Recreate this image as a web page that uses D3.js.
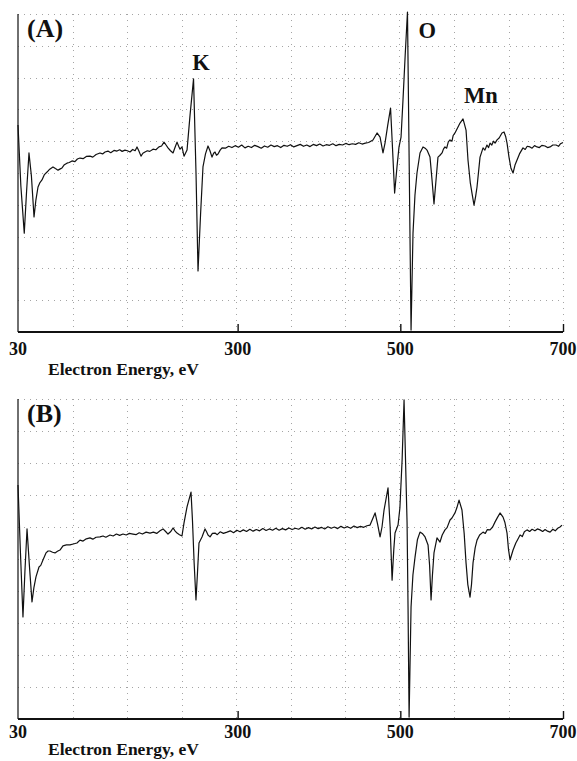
<!DOCTYPE html>
<html>
<head>
<meta charset="utf-8">
<script src="https://cdn.jsdelivr.net/npm/d3@7"></script>
<style>
  html, body { margin: 0; padding: 0; background: #fff; }
  svg { display: block; }
  text { font-family: "Liberation Serif", "Times New Roman", serif; font-weight: bold; fill: #111; }
</style>
</head>
<body>
<svg id="chart" width="577" height="761"></svg>
<script>
// Auger spectra (dN/dE, arbitrary units) versus electron energy in eV
const energyA = [
  30.0, 33.5, 37.7, 40.5, 43.5, 46.5, 49.7, 52.0, 54.6, 57.0, 59.5, 62.5, 65.7, 69.0, 73.0, 76.0,
  79.2, 82.0, 84.1, 87.0, 90.2, 93.0, 96.4, 100.0, 103.0, 106.2, 110.0, 114.0, 118.5, 122.0, 126.0,
  130.8, 134.0, 137.0, 140.6, 144.0, 148.0, 151.7, 155.0, 158.0, 161.5, 164.5, 167.7, 171.0, 174.0,
  176.3, 178.5, 181.2, 183.5, 186.1, 189.0, 192.0, 196.0, 199.5, 203.3, 206.5, 209.5, 212.0, 214.4,
  217.5, 220.6, 223.0, 225.5, 227.5, 229.2, 231.6, 234.1, 237.8, 241.5, 245.8, 248.9, 251.3, 254.4,
  257.4, 260.5, 263.6, 266.0, 268.5, 270.5, 272.2, 274.0, 275.9, 278.5, 280.8,
  285, 289, 293, 297, 301, 305, 309, 313, 317, 321, 325, 329, 333, 337, 341, 345, 349, 353, 357,
  361, 365, 369, 373, 377, 381, 385, 389, 393, 397, 401, 405, 409, 413, 417, 421, 425, 429, 433,
  437, 441, 445, 449, 453, 457, 461,
  466.4, 471.4, 475.1, 478.7, 481.2, 484.5, 488.0, 490.0, 493.0, 495.9, 498.4, 500.9, 503.3, 506.0,
  508.8, 511.0, 513.2, 515.6, 518.0, 520.5, 524.2, 527.9, 530.5, 532.8, 536.5, 539.0, 541.4, 543.9,
  546.3, 548.5, 551.3, 553.0, 554.9, 557.0, 559.0, 561.1, 563.5, 565.0, 567.2, 570.0, 573.4, 577.1,
  580.8, 583.2, 586.0, 588.1, 590.6, 592.5, 594.3, 598.0, 601.7, 604.0, 606.5, 608.5, 610.3, 612.5,
  614.5, 616.5, 618.9, 621.5, 625.0, 627.5, 629.5, 631.2, 633.6, 636.0, 638.6, 641.0, 643.5, 646.5,
  650.8, 653.5, 656.0, 659.4, 662.0, 665.0, 668.1, 671.0, 674.0, 677.9, 681.0, 684.1, 687.5, 691.4,
  694.5, 697.0, 700.0
];
const signalA = [
  6.51, 4.60, 3.11, 4.40, 5.63, 4.90, 3.62, 4.15, 4.56, 4.70, 4.78, 4.95, 5.03, 5.12, 5.19, 5.14,
  5.09, 5.13, 5.16, 5.26, 5.31, 5.33, 5.38, 5.36, 5.44, 5.47, 5.45, 5.52, 5.53, 5.50, 5.58,
  5.63, 5.60, 5.66, 5.69, 5.64, 5.71, 5.69, 5.73, 5.68, 5.72, 5.70, 5.66, 5.74, 5.70,
  5.82, 5.70, 5.53, 5.62, 5.66, 5.70, 5.68, 5.75, 5.73, 5.82, 5.85, 5.97, 5.88, 5.79,
  5.70, 5.63, 5.80, 5.97, 5.84, 5.75, 5.82, 5.53, 5.72, 6.82, 7.96, 4.94, 1.92, 3.68,
  5.19, 5.60, 5.85, 5.70, 5.50, 5.62, 5.66, 5.56, 5.60, 5.72, 5.79,
  5.78, 5.84, 5.80, 5.86, 5.81, 5.88, 5.79, 5.84, 5.80, 5.87, 5.83, 5.78, 5.85, 5.81, 5.88, 5.83, 5.86, 5.80, 5.87,
  5.84, 5.89, 5.82, 5.86, 5.90, 5.84, 5.88, 5.83, 5.90, 5.86, 5.91, 5.85, 5.89, 5.87, 5.92, 5.86, 5.90, 5.88, 5.93,
  5.89, 5.92, 5.90, 5.95, 5.91, 5.94, 5.96,
  6.04, 6.26, 6.13, 5.63, 5.94, 6.50, 7.04, 6.00, 4.37, 5.19, 5.82, 6.13, 7.30, 8.71,
  10.06, 5.10, 0.06, 3.11, 4.30, 5.00, 5.63, 5.82, 5.78, 5.72, 5.50, 4.78, 4.03, 4.78,
  5.50, 5.55, 5.63, 5.75, 5.82, 5.78, 5.98, 6.04, 6.00, 6.18, 6.26, 6.40, 6.57, 6.70,
  6.35, 5.41, 4.70, 4.37, 3.99, 4.25, 4.56, 5.50, 5.79, 5.72, 5.88, 5.80, 5.94, 5.88,
  6.00, 5.94, 6.04, 6.10, 6.26, 6.29, 6.15, 5.94, 5.50, 5.15, 5.00, 5.25, 5.41, 5.60,
  5.79, 5.74, 5.84, 5.82, 5.78, 5.86, 5.82, 5.80, 5.87, 5.85, 5.80, 5.82, 5.88, 5.88,
  5.84, 5.92, 5.96
];

const energyB = [
  30.0, 33.0, 36.1, 38.5, 41.1, 44.0, 47.2, 49.5, 52.1, 55.8, 58.0, 60.7, 64.4, 67.0, 69.3, 72.5,
  75.5, 78.5, 81.6, 85.3, 89.5, 93.9, 98.0, 102.5, 106.2, 110.0, 114.0, 118.5, 122.0, 126.0, 130.8,
  134.5, 138.0, 143.1, 147.0, 151.0, 155.0, 159.1, 163.0, 167.0, 171.4, 175.0, 179.0, 183.0, 187.5,
  192.3, 196.5, 200.5, 204.6, 208.3, 211.5, 214.4, 217.5, 220.6, 223.0, 225.5, 228.5, 231.6, 234.1,
  237.8, 242.7, 244.5, 246.5, 248.8, 250.5, 252.5, 256.2, 259.9, 261.8, 263.6, 266.1, 269.0, 272.2,
  275.0, 278.5, 282.5, 287.0,
  291, 295, 299, 303, 307, 311, 315, 319, 323, 327, 331, 335, 339, 343, 347, 351, 355, 359, 363,
  367, 371, 375, 379, 383, 387, 391, 395, 399, 403, 407, 411, 415, 419, 423, 427, 431, 435, 439,
  443, 447, 451, 455, 459,
  462.8, 469.0, 472.0, 475.1, 477.5, 480.0, 484.9, 487.5, 489.9, 492.0, 493.5, 497.2, 499.5, 502.2,
  504.6, 506.5, 508.3, 509.5, 510.8, 513.2, 515.5, 518.1, 521.0, 524.2, 527.0, 530.4, 534.1, 536.0,
  537.8, 539.5, 541.4, 545.1, 548.8, 551.5, 554.9, 557.5, 561.1, 563.5, 567.2, 569.5, 572.2, 575.8,
  578.5, 580.8, 583.0, 585.7, 587.5, 589.4, 592.0, 594.3, 597.5, 601.7, 604.5, 607.0, 610.3, 613.5,
  616.5, 619.5, 622.6, 626.3, 628.5, 631.2, 633.0, 634.9, 638.6, 642.0, 644.5, 647.2, 650.0, 652.5,
  655.8, 659.0, 662.0, 665.5, 668.5, 671.8, 675.0, 678.0, 681.0, 684.1, 687.5, 690.5, 693.5, 696.3,
  698.8
];
const signalB = [
  7.31, 5.20, 3.19, 4.60, 5.94, 4.80, 3.66, 4.10, 4.44, 4.75, 4.80, 4.97, 5.19, 5.25, 5.25, 5.21,
  5.19, 5.24, 5.28, 5.41, 5.44, 5.44, 5.47, 5.50, 5.59, 5.56, 5.63, 5.66, 5.62, 5.68, 5.69,
  5.72, 5.68, 5.75, 5.72, 5.78, 5.74, 5.78, 5.75, 5.80, 5.78, 5.76, 5.82, 5.78, 5.84,
  5.81, 5.84, 5.80, 5.88, 5.94, 5.86, 5.78, 5.85, 5.97, 5.88, 5.81, 5.76, 5.72, 6.13,
  6.63, 7.09, 6.20, 4.90, 3.72, 4.50, 5.50, 5.69, 5.94, 5.85, 5.75, 5.69, 5.80, 5.81,
  5.76, 5.85, 5.80, 5.84,
  5.88, 5.82, 5.90, 5.85, 5.91, 5.86, 5.93, 5.87, 5.92, 5.88, 5.95, 5.89, 5.94, 5.90, 5.96, 5.90, 5.95, 5.91, 5.97,
  5.92, 5.96, 5.93, 5.99, 5.93, 5.98, 5.94, 6.00, 5.95, 5.99, 5.94, 6.01, 5.96, 6.00, 5.95, 6.02, 5.97, 6.01, 5.96,
  6.03, 5.98, 6.02, 5.99, 6.04,
  6.06, 6.44, 6.10, 5.69, 6.00, 6.53, 7.22, 6.00, 4.34, 5.30, 5.81, 6.06, 6.60, 8.09,
  9.97, 8.00, 6.13, 3.50, 0.06, 3.50, 4.50, 5.06, 5.60, 5.84, 5.80, 5.69, 5.44, 4.80,
  3.72, 4.50, 5.19, 5.66, 5.53, 5.75, 5.91, 5.98, 6.22, 6.28, 6.44, 6.60, 6.84, 6.53,
  5.80, 4.88, 4.20, 3.81, 4.20, 4.88, 5.35, 5.59, 5.75, 5.84, 5.80, 5.92, 5.91, 6.00,
  6.16, 6.30, 6.44, 6.31, 6.15, 5.81, 5.30, 4.97, 5.28, 5.50, 5.62, 5.75, 5.70, 5.85,
  5.91, 5.86, 5.93, 5.88, 5.94, 5.91, 5.86, 5.92, 5.87, 5.84, 5.93, 5.88, 5.96, 6.00,
  6.06
];

const tickValues = [30, 300, 500, 700];
const tickLabels = ["30", "300", "500", "700"];
const axisTitle = "Electron Energy, eV";
const peakLabelsA = [
  { text: "K", energy: 255, value: 8.24 },
  { text: "O", energy: 533, value: 9.25 },
  { text: "Mn", energy: 599, value: 7.2 }
];

const svg = d3.select("#chart");
const W = 577;

const x = d3.scaleLinear().domain([30, 700]).range([18, 563]);

function drawPanel(top, bottom, energy, signal, tag, peaks, labelY, titleY) {
  const y = d3.scaleLinear().domain([0, 10]).range([bottom, top]);
  const g = svg.append("g");

  // dotted grid
  const grid = g.append("g")
    .attr("stroke", "#a4a4a4")
    .attr("stroke-width", 1)
    .attr("stroke-dasharray", "1,5")
    .attr("fill", "none");
  grid.selectAll("line.h").data(d3.range(1, 11)).join("line")
    .attr("x1", x(30)).attr("x2", x(700))
    .attr("y1", d => Math.round(y(d)) + 0.5).attr("y2", d => Math.round(y(d)) + 0.5);
  grid.selectAll("line.v").data(d3.range(1, 11).map(i => 30 + i * 67)).join("line")
    .attr("y1", y(10)).attr("y2", y(0))
    .attr("x1", d => Math.round(x(d)) + 0.5).attr("x2", d => Math.round(x(d)) + 0.5);

  // left edge of the frame
  g.append("line")
    .attr("x1", x(30)).attr("x2", x(30))
    .attr("y1", y(10)).attr("y2", y(0))
    .attr("stroke", "#222").attr("stroke-width", 1.3);

  // energy axis with upward ticks
  const axis = d3.axisTop(x).tickValues(tickValues.slice(1))
    .tickSize(8).tickFormat("");
  const ax = g.append("g").attr("transform", `translate(0,${y(0)})`).call(axis);
  ax.select(".domain").attr("stroke", "#111").attr("stroke-width", 1.8).attr("d", `M${x(30)},0H${x(700)}`);
  ax.selectAll(".tick line").attr("stroke", "#111").attr("stroke-width", 1.4);

  g.selectAll("text.tick").data(tickValues).join("text")
    .attr("class", "tick")
    .attr("x", d => x(d)).attr("y", labelY)
    .attr("text-anchor", "middle")
    .attr("font-size", 18)
    .text((d, i) => tickLabels[i]);

  g.append("text")
    .attr("x", 48).attr("y", titleY)
    .attr("font-size", 17.5)
    .text(axisTitle);

  // spectrum trace
  const pts = energy.map((e, i) => [e, signal[i]]);
  g.append("path")
    .datum(pts)
    .attr("fill", "none")
    .attr("stroke", "#111")
    .attr("stroke-width", 1.2)
    .attr("stroke-linejoin", "round")
    .attr("d", d3.line().x(d => x(d[0])).y(d => y(d[1])));

  // panel tag
  g.append("text")
    .attr("x", 27).attr("y", top + 23)
    .attr("font-size", 26)
    .text(tag);

  g.selectAll("text.peak").data(peaks).join("text")
    .attr("class", "peak")
    .attr("x", d => x(d.energy)).attr("y", d => y(d.value))
    .attr("text-anchor", "middle")
    .attr("font-size", 22.5)
    .text(d => d.text);
}

svg.append("rect").attr("width", W).attr("height", 761).attr("fill", "#fff");
drawPanel(14, 332, energyA, signalA, "(A)", peakLabelsA, 355, 375);
drawPanel(399, 719, energyB, signalB, "(B)", [], 738, 755);
</script>
</body>
</html>
